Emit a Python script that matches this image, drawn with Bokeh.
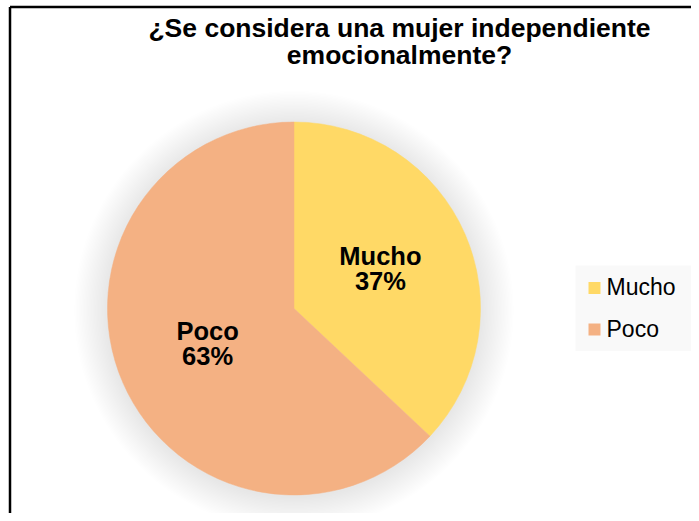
import math
from bokeh.plotting import figure
from bokeh.models import Range1d, ColumnDataSource
from bokeh.core.properties import value
from bokeh.embed import file_html
from bokeh.resources import INLINE

# ---- data ----
categories = ["Mucho", "Poco"]
percents = [37, 63]
palette = ["#FFD966", "#F4B183"]
title_lines = ["¿Se considera una mujer independiente", "emocionalmente?"]

W, H = 691, 513
FONT = "Liberation Sans"

p = figure(width=W, height=H, output_backend="svg", toolbar_location=None,
           x_range=Range1d(0, W), y_range=Range1d(0, H),
           x_axis_location=None, y_axis_location=None,
           min_border=0, outline_line_color=None,
           background_fill_color="white", border_fill_color="white")
p.grid.visible = False

# picture px -> data
def X(px):
    return px
def Y(py):
    return H - py

cx, cy, r = X(293.5), Y(308), 186.5

# chart-area border (top and left edges visible)
p.line([X(9.5), X(9.5)], [Y(530), Y(6.5)], line_color="black", line_width=2.5)
p.line([X(9.5), X(700)], [Y(6.5), Y(6.5)], line_color="black", line_width=2.5)

# soft shadow
n = 24
for i in range(n):
    p.circle(x=[cx], y=[cy - 2], radius=r + 1.4 * (i + 1), fill_color="black",
             fill_alpha=0.0048, line_color=None)

# wedges
total = sum(percents)
starts, ends, mids = [], [], []
ang = math.pi / 2
for v in percents:
    sweep = v / total * 2 * math.pi
    starts.append(ang)
    ends.append(ang - sweep)
    mids.append(ang - sweep / 2)
    ang -= sweep

src = ColumnDataSource(dict(cat=categories, start=starts, end=ends, color=palette,
                            pct=[f"{v}%" for v in percents],
                            lx=[cx + 0.505 * r * math.cos(m) for m in mids],
                            ly=[cy + 0.505 * r * math.sin(m) for m in mids]))
p.wedge(x=cx, y=cy, radius=r, start_angle="start", end_angle="end", direction="clock",
        fill_color="color", line_color="color", line_width=0.5, source=src)

# data labels
p.text(x="lx", y="ly", text="cat", source=src, text_align="center", text_baseline="alphabetic",
       y_offset=-15, text_font=value(FONT), text_font_style="bold", text_font_size="25.5px",
       text_color="black")
p.text(x="lx", y="ly", text="pct", source=src, text_align="center", text_baseline="alphabetic",
       y_offset=10, text_font=value(FONT), text_font_style="bold", text_font_size="25.5px",
       text_color="black")

# title
p.text(x=[X(399), X(399)], y=[Y(27.5), Y(54.5)], text=title_lines, text_align="center",
       text_baseline="alphabetic", text_font=value(FONT), text_font_style="bold",
       text_font_size="26.5px", text_color="black")

# legend
p.quad(left=X(575), right=X(693), bottom=Y(350.5), top=Y(265), fill_color="#F9F9F9",
       line_color=None)
leg = ColumnDataSource(dict(cat=categories, color=palette,
                            x=[X(594)] * len(categories),
                            y=[Y(287.5 + 41.5 * i) for i in range(len(categories))]))
p.scatter(x="x", y="y", marker="square", size=12, fill_color="color", line_color=None, source=leg)
p.text(x=X(606), y="y", text="cat", source=leg, text_baseline="alphabetic", text_align="left",
       text_font=value(FONT), text_font_size="23px", text_color="black", y_offset=-1)

open("out.html", "w").write(file_html(p, INLINE))
